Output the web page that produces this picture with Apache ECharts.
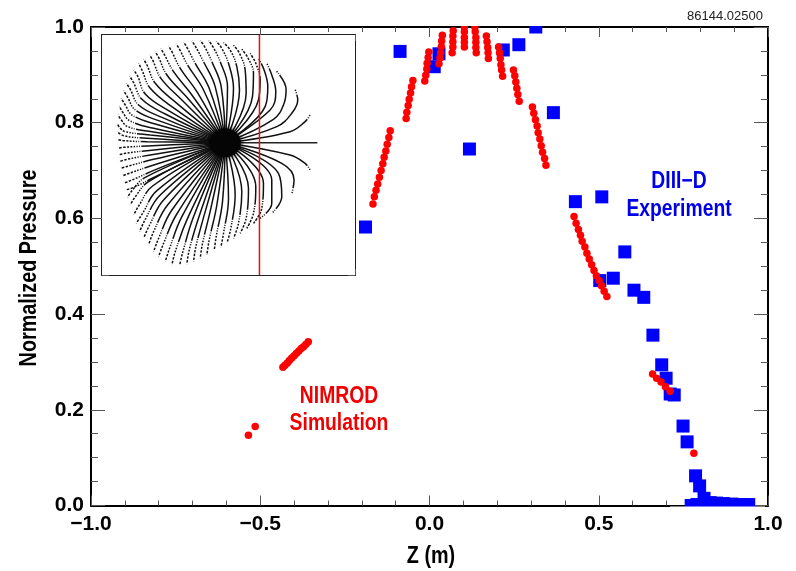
<!DOCTYPE html>
<html><head><meta charset="utf-8">
<style>html,body{margin:0;padding:0;background:#fff}#c{width:796px;height:571px}</style>
<script src="https://cdn.jsdelivr.net/npm/echarts@6/dist/echarts.min.js"></script>
</head><body><div id="c"></div>
<script>
const experiment = [[-0.189,0.582],[-0.087,0.949],[0.014,0.917],[0.028,0.944],[0.118,0.745],[0.218,0.952],[0.264,0.963],[0.314,1.0],[0.366,0.821],[0.431,0.635],[0.509,0.645],[0.577,0.530],[0.543,0.475],[0.503,0.470],[0.604,0.450],[0.633,0.435],[0.660,0.356],[0.686,0.294],[0.699,0.266],[0.711,0.233],[0.723,0.231],[0.749,0.166],[0.761,0.133],[0.786,0.062],[0.798,0.041],[0.811,0.015],[0.773,0.0],[0.790,0.002],[0.829,0.006],[0.848,0.005],[0.868,0.004],[0.893,0.003],[0.917,0.002],[0.943,0.002]];
const simulation = [[-0.535,0.147],[-0.515,0.165],
[-0.433,0.289],[-0.427,0.293],[-0.420,0.298],[-0.414,0.303],[-0.407,0.308],[-0.400,0.313],[-0.393,0.318],[-0.386,0.323],[-0.379,0.328],[-0.372,0.332],[-0.365,0.337],[-0.358,0.342],
[-0.167,0.630],[-0.163,0.645],[-0.158,0.659],[-0.153,0.672],[-0.148,0.686],[-0.143,0.700],[-0.138,0.714],[-0.134,0.728],[-0.129,0.741],[-0.125,0.755],[-0.120,0.769],[-0.116,0.783],
[-0.069,0.809],[-0.067,0.822],[-0.063,0.836],[-0.060,0.849],[-0.056,0.862],[-0.053,0.875],[-0.049,0.888],
[-0.014,0.887],[-0.011,0.899],[-0.008,0.912],[-0.007,0.924],[-0.004,0.936],[-0.002,0.948],
[0.028,0.923],[0.031,0.935],[0.033,0.946],[0.035,0.959],[0.036,0.971],[0.038,0.983],
[0.067,0.946],[0.069,0.958],[0.069,0.969],[0.069,0.981],[0.070,0.992],
[0.103,0.958],[0.103,0.968],[0.103,0.978],[0.103,0.990],[0.103,1.000],
[0.134,1.000],[0.135,0.990],[0.137,0.978],[0.137,0.968],[0.137,0.957],[0.138,0.946],
[0.168,0.981],[0.170,0.969],[0.172,0.957],[0.173,0.946],[0.174,0.934],
[0.204,0.958],[0.207,0.946],[0.209,0.934],[0.211,0.921],[0.213,0.910],[0.216,0.897],
[0.248,0.910],[0.252,0.898],[0.255,0.885],[0.258,0.872],[0.261,0.859],[0.265,0.845],
[0.304,0.833],[0.308,0.820],[0.313,0.806],[0.318,0.793],[0.321,0.779],[0.326,0.766],[0.330,0.752],[0.334,0.738],[0.340,0.725],[0.344,0.711],
[0.427,0.604],[0.433,0.590],[0.440,0.577],[0.446,0.565],[0.451,0.552],[0.459,0.540],[0.465,0.527],[0.472,0.515],[0.479,0.503],[0.486,0.491],[0.493,0.480],[0.501,0.470],[0.508,0.459],[0.516,0.448],[0.524,0.437],
[0.659,0.275],[0.671,0.266],[0.684,0.258],[0.697,0.248],[0.711,0.239],
[0.781,0.109]];
const xTicks = [-1,-0.5,0,0.5,1];
const yTicks = [0,0.2,0.4,0.6,0.8,1];
const shotLabel = '86144.02500';

// Inset: field lines, in inset reading units.
const fieldCentre = [405,368];
const fieldLines = [
[[600,335],[645,305],[660,285]],
[[560,320],[605,280],[623,240],[615,208]],
[[550,298],[582,250],[588,208],[558,152]],
[[540,270],[557,215],[545,165],[530,130]],
[[525,260],[533,200],[522,150],[505,115]],
[[505,240],[510,180],[497,130],[480,100]],
[[487,230],[490,160],[473,113],[455,88]],
[[468,220],[465,150],[448,100],[430,76]],
[[448,210],[440,140],[420,90],[400,68]],
[[430,205],[415,130],[393,82],[378,64]],
[[412,200],[390,125],[368,80],[355,62]],
[[393,200],[365,125],[342,78],[330,62]],
[[375,200],[340,125],[315,78],[305,63]],
[[357,205],[315,130],[290,82],[280,66]],
[[340,210],[292,135],[268,88],[258,72]],
[[322,218],[270,145],[245,95],[235,78]],
[[305,225],[250,155],[222,103],[212,86]],
[[290,232],[230,165],[205,112],[195,95]],
[[275,240],[212,175],[188,122],[178,105]],
[[260,250],[195,190],[170,135],[160,118]],
[[248,262],[180,205],[155,150],[145,130]],
[[235,272],[165,222],[142,168],[130,150]],
[[225,282],[155,238],[130,188],[118,168]],
[[215,292],[145,255],[120,208],[108,190]],
[[205,302],[135,270],[112,232],[100,212]],
[[195,312],[125,285],[105,255],[93,235]],
[[190,325],[118,302],[98,278],[87,258]],
[[185,335],[112,320],[93,300],[83,285]],
[[180,345],[105,335],[90,325],[80,310]],
[[170,355],[100,347],[80,335]],
[[170,365],[100,362],[80,358]],
[[170,378],[100,382],[82,385]],
[[170,392],[105,400],[84,405]],
[[180,405],[110,418],[86,425]],
[[190,418],[115,438],[90,445]],
[[200,432],[122,458],[95,468]],
[[205,445],[130,478],[100,490]],
[[215,460],[135,500],[105,510]],
[[165,472],[125,512],[112,532]],
[[175,485],[135,530],[120,555]],
[[187,498],[147,555],[130,585]],
[[200,512],[158,578],[138,610]],
[[210,525],[165,598],[148,635]],
[[220,540],[178,615],[160,655]],
[[232,555],[190,635],[175,675]],
[[245,570],[205,655],[190,695]],
[[258,585],[220,670],[205,710]],
[[275,590],[238,685],[225,725]],
[[292,595],[255,695],[245,735]],
[[310,590],[278,695],[268,737]],
[[328,585],[297,690],[290,733]],
[[345,575],[317,680],[310,725]],
[[362,565],[337,670],[330,715]],
[[380,555],[357,660],[350,705]],
[[397,545],[378,650],[372,692]],
[[415,535],[400,640],[392,682]],
[[435,525],[422,625],[410,670]],
[[455,515],[445,610],[430,655]],
[[475,505],[468,595],[450,640]],
[[497,500],[490,580],[470,625]],
[[520,490],[515,565],[490,610]],
[[545,480],[545,550],[510,595]],
[[565,460],[575,530],[545,580]],
[[575,430],[612,480],[605,522]],
[[600,405],[645,430],[660,450]]
];
const midplane = [[405,368],[682,368]];
const cutLine = [[508,45],[508,765]];

const FONT = '"Liberation Sans",sans-serif';
const fmt = v => (v < 0 ? '\u2212' : '') + Math.abs(v).toFixed(1);
const tickCol = '#555';
function mainX(pos, show){
  return {type:'value',gridIndex:0,position:pos,min:-1,max:1,interval:0.5,
    axisLine:{show:true,onZero:false,lineStyle:{color:'#000',width:2}},
    axisTick:{show:true,inside:true,length:10,lineStyle:{color:tickCol,width:1}},
    minorTick:{show:true,splitNumber:5,length:5,lineStyle:{color:tickCol,width:1}},
    splitLine:{show:false},
    axisLabel:{show:show,formatter:fmt,color:'#000',fontFamily:FONT,fontWeight:'bold',fontSize:21,margin:8,
      customValues:xTicks,hideOverlap:false}};
}
function mainY(pos, show){
  return {type:'value',gridIndex:0,position:pos,min:0,max:1,interval:0.2,
    axisLine:{show:true,onZero:false,lineStyle:{color:'#000',width:2}},
    axisTick:{show:true,inside:true,length:14,lineStyle:{color:tickCol,width:1}},
    minorTick:{show:true,splitNumber:4,length:7,lineStyle:{color:tickCol,width:1}},
    splitLine:{show:false},
    axisLabel:{show:show,formatter:fmt,color:'#000',fontFamily:FONT,fontWeight:'bold',fontSize:21,margin:7,
      customValues:yTicks,hideOverlap:false}};
}
function insetX(pos){
  return {type:'value',gridIndex:1,position:pos,min:35,max:795,interval:253.3334,
    axisLine:{show:true,onZero:false,lineStyle:{color:'#222',width:2}},
    axisTick:{show:true,inside:true,length:6,lineStyle:{color:tickCol,width:1}},
    minorTick:{show:true,splitNumber:5,length:3,lineStyle:{color:tickCol,width:1}},
    splitLine:{show:false},axisLabel:{show:false}};
}
function insetY(pos){
  return {type:'value',gridIndex:1,position:pos,inverse:true,min:45,max:765,interval:180,
    axisLine:{show:true,onZero:false,lineStyle:{color:'#222',width:2}},
    axisTick:{show:true,inside:true,length:7,lineStyle:{color:tickCol,width:1}},
    minorTick:{show:true,splitNumber:5,length:3.5,lineStyle:{color:tickCol,width:1}},
    splitLine:{show:false},axisLabel:{show:false}};
}
// Dash pattern: solid near the axis, opening into dots toward the outer end of a line.
function dashFor(line){
  const pts=[fieldCentre].concat(line);
  let len=0;
  for(let i=1;i<pts.length;i++) len+=Math.hypot(pts[i][0]-pts[i-1][0],pts[i][1]-pts[i-1][1])/3;
  const end=line[line.length-1];
  const tail=end[0]>500?5:24;
  return [len-tail,1.4,0.9,1.4,1.2,1.4,1.5,1.4,1.8,1.4,2.1,1.4,2.4,1.4,2.6,1.4,2.8,1.4,3,1.4,3,1.4,3,1000];
}
const series = [
  {type:'scatter',xAxisIndex:0,yAxisIndex:0,symbol:'rect',symbolSize:13,data:experiment,
   itemStyle:{color:'#0000ff',opacity:1},z:3,silent:true},
  {type:'scatter',xAxisIndex:0,yAxisIndex:0,symbol:'circle',symbolSize:7.5,data:simulation,
   itemStyle:{color:'#ff0000',opacity:1},z:4,silent:true}
];
fieldLines.forEach(l=>{
  series.push({type:'line',xAxisIndex:2,yAxisIndex:2,data:[fieldCentre].concat(l),smooth:0.4,showSymbol:false,symbol:'none',silent:true,
    lineStyle:{color:'#111',width:1.5,type:dashFor(l)},z:5,animation:false});
});
series.push({type:'line',xAxisIndex:2,yAxisIndex:2,data:midplane,symbol:'none',silent:true,
  lineStyle:{color:'#222',width:1.5},z:5});
series.push({type:'scatter',xAxisIndex:2,yAxisIndex:2,data:[fieldCentre],symbol:'circle',symbolSize:[31,29],silent:true,
  itemStyle:{color:'#050505',opacity:1,shadowBlur:5,shadowColor:'#000'},z:5});
series.push({type:'line',xAxisIndex:2,yAxisIndex:2,data:cutLine,symbol:'none',silent:true,
  lineStyle:{color:'#e81010',width:1.5},z:6});

const chart = echarts.init(document.getElementById('c'),null,{renderer:'canvas'});
chart.setOption({
  animation:false,backgroundColor:'#fff',
  grid:[
    {left:91,top:27,width:677,height:478.5,show:false},
    {left:102,top:35,width:253,height:240,show:true,backgroundColor:'#fff',borderWidth:0,z:2}
  ],
  xAxis:[mainX('bottom',true),mainX('top',false),insetX('bottom'),insetX('top')],
  yAxis:[mainY('left',true),mainY('right',false),insetY('left'),insetY('right')],
  series:series,
  graphic:[
    {type:'rect',z:15,shape:{x:88,y:10,width:692,height:16},style:{fill:'#fff'},silent:true},
    {type:'rect',z:15,shape:{x:670,y:506.6,width:95,height:7},style:{fill:'#fff'},silent:true},
    {type:'text',x:687,y:10,z:20,style:{text:shotLabel,fontFamily:FONT,fontSize:13,fill:'#222'}},
    {type:'text',x:431,y:557,scaleX:0.86,z:20,style:{text:'Z (m)',fontFamily:FONT,fontWeight:'bold',fontSize:23,fill:'#000',textAlign:'center',textVerticalAlign:'middle'}},
    {type:'text',x:30,y:268,rotation:Math.PI/2,scaleX:0.86,z:20,style:{text:'Normalized Pressure',fontFamily:FONT,fontWeight:'bold',fontSize:23,fill:'#000',textAlign:'center',textVerticalAlign:'middle'}},
    {type:'text',x:679,y:196,scaleX:0.84,z:20,style:{text:'DIII\u2212D\nExperiment',fontFamily:FONT,fontWeight:'bold',fontSize:23,fill:'#0000e6',textAlign:'center',textVerticalAlign:'middle',lineHeight:28}},
    {type:'text',x:339,y:410,scaleX:0.84,z:20,style:{text:'NIMROD\nSimulation',fontFamily:FONT,fontWeight:'bold',fontSize:23,fill:'#f00000',textAlign:'center',textVerticalAlign:'middle',lineHeight:27}}
  ]
});
</script></body></html>
